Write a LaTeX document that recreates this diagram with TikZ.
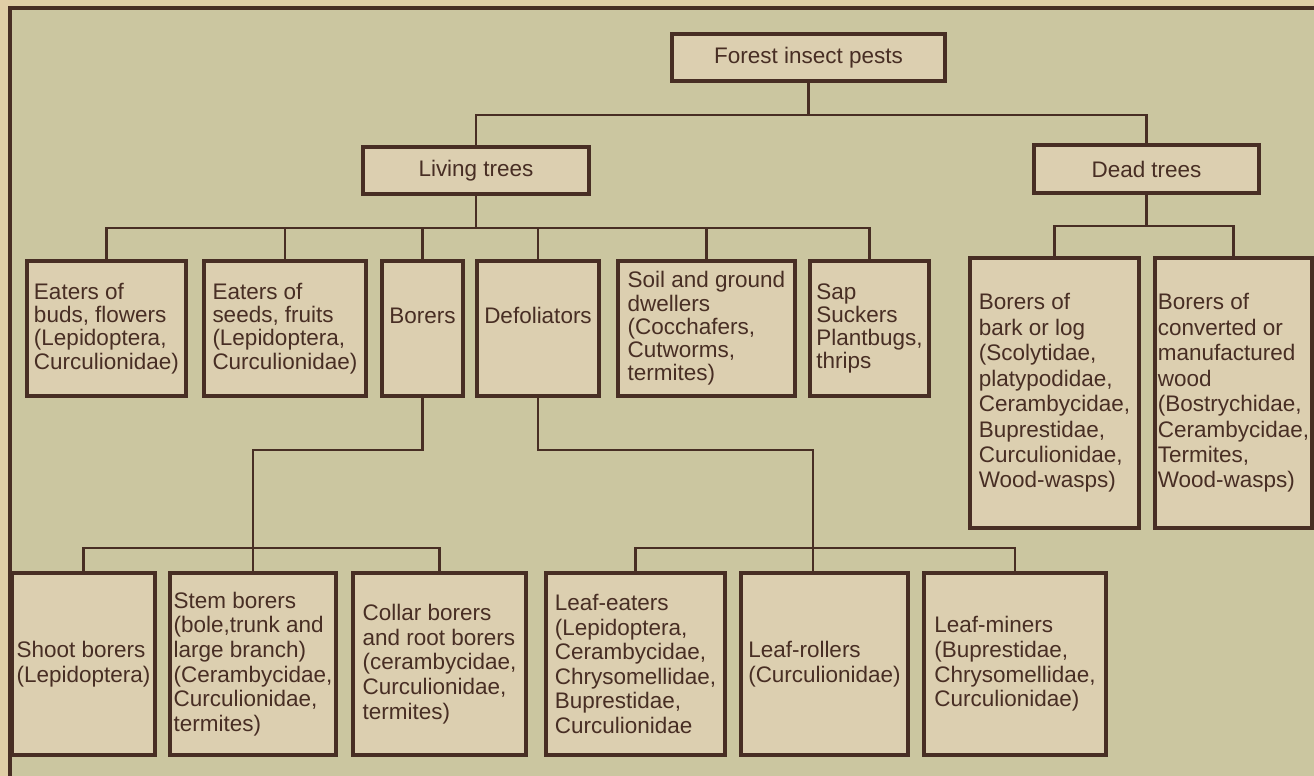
\documentclass[tikz,border=0pt]{standalone}
\usepackage{fontspec}
\setmainfont{Liberation Sans}

\definecolor{paper}{RGB}{203,198,160}
\definecolor{margin}{RGB}{224,206,166}
\definecolor{boxfill}{RGB}{220,207,176}
\definecolor{ink}{RGB}{72,46,36}

\begin{document}
\begin{tikzpicture}[x=0.02cm, y=-0.02cm,
	box/.style={draw=ink, fill=boxfill, line width=1.8pt, text=ink, align=left,
		inner sep=0pt, font=\fontsize{12.8}{13.2}\selectfont},
	boxsize/.style 2 args={minimum width=#1*0.02cm, minimum height=#2*0.02cm},
	roomy/.style={font=\fontsize{12.8}{14}\selectfont},
	dense/.style={font=\fontsize{12.8}{14.5}\selectfont},
	upper/.style={text depth=15pt},
	link/.style={draw=ink, line width=1.4pt}]

	\useasboundingbox (0,0) rectangle (1314,776);

	% paper and frame
	\fill[margin] (0,0) rectangle (1314,776);
	\fill[paper] (10,8) rectangle (1314,776);
	\draw[ink, line width=1.8pt] (1314,8) -- (10,8) -- (10,776);

	% top levels
	\node[box, boxsize={273}{47}] (pests) at (808.5,57.5) {Forest insect pests};
	\node[box, boxsize={226}{47}] (living) at (476,170.5) {Living trees};
	\node[box, boxsize={225}{48}] (dead) at (1146.5,169) {Dead trees};

	% living trees
	\node[box, boxsize={159}{135}] (budeaters) at (106.5,328.5)
		{Eaters of\\buds, flowers\\(Lepidoptera,\\Curculionidae)};
	\node[box, boxsize={162}{135}] (seedeaters) at (285,328.5)
		{Eaters of\\seeds, fruits\\(Lepidoptera,\\Curculionidae)};
	\node[box, upper, boxsize={81}{135}] (borers) at (422.5,328.5) {Borers};
	\node[box, upper, boxsize={122}{135}] (defol) at (538,328.5) {Defoliators};
	\node[box, boxsize={177}{135}] (soil) at (706.5,328.5)
		{Soil and ground\\dwellers\\(Cocchafers,\\Cutworms,\\termites)};
	\node[box, boxsize={119}{135}] (sap) at (869.5,328.5)
		{Sap\\Suckers\\Plantbugs,\\thrips};

	% dead trees
	\node[box, dense, boxsize={169}{270}] (bark) at (1054.5,393)
		{Borers of\\bark or log\\(Scolytidae,\\platypodidae,\\Cerambycidae,\\Buprestidae,\\Curculionidae,\\Wood-wasps)};
	\node[box, dense, boxsize={157}{270}] (wood) at (1233.5,393)
		{Borers of\\converted or\\manufactured\\wood\\(Bostrychidae,\\Cerambycidae,\\Termites,\\Wood-wasps)};

	% borers and defoliators
	\node[box, roomy, boxsize={143}{182}] (shoot) at (83.5,664) {Shoot borers\\(Lepidoptera)};
	\node[box, roomy, boxsize={166}{182}] (stem) at (253,664)
		{Stem borers\\(bole,trunk and\\large branch)\\(Cerambycidae,\\Curculionidae,\\termites)};
	\node[box, roomy, boxsize={173}{182}] (collar) at (439.5,664)
		{Collar borers\\and root borers\\(cerambycidae,\\Curculionidae,\\termites)};
	\node[box, roomy, boxsize={179}{182}] (leafeat) at (635.5,664)
		{Leaf-eaters\\(Lepidoptera,\\Cerambycidae,\\Chrysomellidae,\\Buprestidae,\\Curculionidae};
	\node[box, roomy, boxsize={167}{182}] (leafroll) at (824.5,664) {Leaf-rollers\\(Curculionidae)};
	\node[box, roomy, boxsize={182}{182}] (leafmine) at (1015,664)
		{Leaf-miners\\(Buprestidae,\\Chrysomellidae,\\Curculionidae)};

	% connectors
	\coordinate (top) at (808.5,115);
	\draw[link] (pests.south) -- (top);
	\draw[link] (living.north) |- (top) -| (dead.north);

	\coordinate (lt) at (476,228);
	\draw[link] (living.south) -- (lt);
	\draw[link] (budeaters.north) |- (lt) -| (sap.north);
	\foreach \n in {seedeaters,borers,defol,soil}
		\draw[link] (\n.north) -- (\n.north |- lt);

	\coordinate (dt) at (1146.5,226);
	\draw[link] (dead.south) -- (dt);
	\draw[link] (bark.north) |- (dt) -| (wood.north);

	\coordinate (bo) at (253,450);
	\coordinate (bs) at (253,548);
	\draw[link] (borers.south) |- (bo) -- (stem.north);
	\draw[link] (shoot.north) -- (shoot.north |- bs) -- (collar.north |- bs) -- (collar.north);

	\coordinate (de) at (813,450);
	\coordinate (ds) at (813,548);
	\draw[link] (defol.south) |- (de) -- (de |- leafroll.north);
	\draw[link] (leafeat.north) -- (leafeat.north |- ds) -- (leafmine.north |- ds) -- (leafmine.north);

\end{tikzpicture}
\end{document}
